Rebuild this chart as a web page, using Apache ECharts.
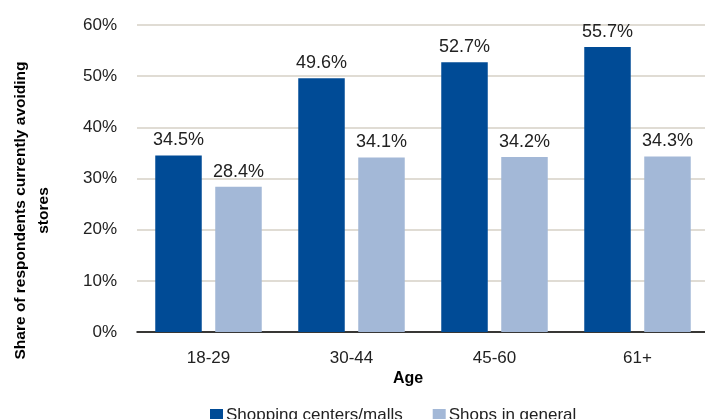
<!DOCTYPE html>
<html>
<head>
<meta charset="utf-8">
<script src="https://cdn.jsdelivr.net/npm/echarts@6/dist/echarts.min.js"></script>
<style>html,body{margin:0;padding:0;background:#fff}#c{width:705px;height:419px}</style>
</head>
<body>
<div id="c"></div>
<script>
const categories = ['18-29', '30-44', '45-60', '61+'];
const malls = [34.5, 49.6, 52.7, 55.7];
const shops = [28.4, 34.1, 34.2, 34.3];
const seriesNames = ['Shopping centers/malls', 'Shops in general'];
const yTicks = [0, 10, 20, 30, 40, 50, 60];

const FONT = '"Liberation Sans", Arial, sans-serif';
const chart = echarts.init(document.getElementById('c'));
const labelStyle = {
  show: true, position: 'top', distance: 6,
  formatter: p => p.value.toFixed(1) + '%',
  fontFamily: FONT, fontSize: 18, color: '#222'
};
chart.setOption({
  animation: false,
  textStyle: { fontFamily: FONT },
  grid: { left: 137, top: 25, width: 572, height: 307, containLabel: false, outerBoundsMode: 'none' },
  legend: {
    data: seriesNames, left: 205, top: 402,
    itemWidth: 13, itemHeight: 13, itemGap: 30,
    icon: 'rect',
    textStyle: { fontFamily: FONT, fontSize: 17, color: '#222', padding: [0, 0, 0, -2] }
  },
  xAxis: {
    type: 'category', data: categories,
    axisLine: { lineStyle: { color: '#000', width: 1.5 } },
    axisTick: { show: false },
    axisLabel: { fontFamily: FONT, fontSize: 17, color: '#222', margin: 18 }
  },
  yAxis: {
    type: 'value', min: yTicks[0], max: yTicks[yTicks.length - 1], interval: 10,
    axisLine: { show: false }, axisTick: { show: false },
    splitLine: { lineStyle: { color: '#d6d0c6', width: 1.5 } },
    axisLabel: { fontFamily: FONT, fontSize: 17, color: '#222', margin: 20, formatter: v => v + '%' },
    name: 'Share of respondents currently avoiding\nstores',
    nameLocation: 'middle', nameGap: 82, nameRotate: 90,
    nameTextStyle: { fontFamily: FONT, fontWeight: 'bold', fontSize: 15.5, color: '#000', lineHeight: 23, padding: [0, 64, 0, 0] }
  },
  graphic: [{
    type: 'text', left: 393, top: 371,
    style: { text: 'Age', font: 'bold 16px "Liberation Sans", Arial, sans-serif', fill: '#000' }
  }],
  series: [
    { name: seriesNames[0], type: 'bar', data: malls, barWidth: 46.5, barGap: '29%',
      itemStyle: { color: '#004b96' }, label: labelStyle },
    { name: seriesNames[1], type: 'bar', data: shops, barWidth: 46.5,
      itemStyle: { color: '#a3b8d7' }, label: labelStyle }
  ]
});
</script>
</body>
</html>
